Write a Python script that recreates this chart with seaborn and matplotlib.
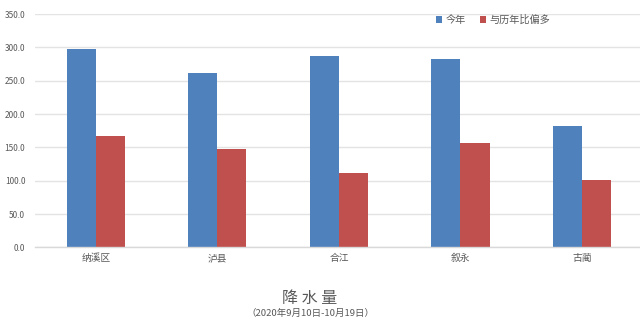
import matplotlib
matplotlib.use("Agg")
import matplotlib.pyplot as plt
import seaborn as sns
import pandas as pd
from matplotlib.patches import Patch

categories = ["纳溪区", "泸县", "合江", "叙永", "古蔺"]
series_names = ["今年", "与历年比偏多"]
this_year = [298, 262, 287, 282, 182]
above_avg = [167, 147, 111, 157, 101]
yticks = [0, 50, 100, 150, 200, 250, 300, 350]
colors = ["#4F81BD", "#C0504D"]

sns.set_theme(style="white")
plt.rcParams['font.family'] = ['Noto Sans CJK SC', 'DejaVu Sans']

df = pd.DataFrame({
    "地区": categories * 2,
    "系列": [series_names[0]] * len(categories) + [series_names[1]] * len(categories),
    "值": this_year + above_avg,
})

fig = plt.figure(figsize=(6.4, 3.36), dpi=100)
ax = fig.add_axes([35 / 640, 1 - 247.4 / 336, (640 - 35) / 640, (247.4 - 14) / 336])

sns.barplot(data=df, x="地区", y="值", hue="系列", palette=colors, width=0.48,
            saturation=1, ax=ax, legend=False, linewidth=0)

ax.set_ylim(0, 350)
ax.set_xlim(-0.5, (640 - 96) / 121.5)
ax.set_yticks(yticks)
ax.set_yticklabels([f"{v:.1f}" for v in yticks])
ax.yaxis.grid(True, color="#E3E3E3", linewidth=1)
ax.set_axisbelow(True)
for s in ["top", "right", "left"]:
    ax.spines[s].set_visible(False)
ax.spines["bottom"].set_color("#D9D9D9")
ax.spines["bottom"].set_linewidth(1)
ax.tick_params(axis="both", length=0, colors="#595959")
ax.tick_params(axis="y", labelsize=6, pad=7)
ax.tick_params(axis="x", labelsize=7, pad=4)
ax.set_xlabel("")
ax.set_ylabel("")

handles = [Patch(facecolor=c, edgecolor="none") for c in colors]
fig.legend(handles, series_names, loc="center", bbox_to_anchor=(493 / 640, 1 - 20 / 336),
           ncol=2, frameon=False, fontsize=7.3, handlelength=0.6, handleheight=0.6,
           handletextpad=0.3, columnspacing=1.4, labelcolor="#595959")

fig.text(310 / 640, 1 - 298 / 336, "降 水 量", ha="center", va="center",
         fontsize=11.5, color="#595959")
fig.text(310 / 640, 1 - 313 / 336, "（2020年9月10日-10月19日）", ha="center", va="center",
         fontsize=6.8, color="#595959")

fig.savefig("out.png", dpi=100)
